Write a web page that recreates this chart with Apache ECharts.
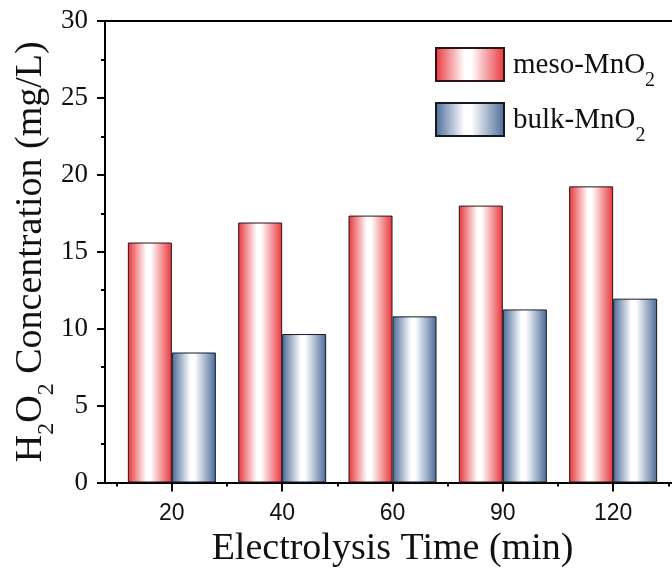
<!DOCTYPE html>
<html>
<head>
<meta charset="utf-8">
<script src="https://cdn.jsdelivr.net/npm/echarts@6/dist/echarts.min.js"></script>
<style>
  html, body { margin: 0; padding: 0; background: #fff; }
  #chart { width: 672px; height: 570px; }
</style>
</head>
<body>
<div id="chart"></div>
<script>
// electrolysis time, min
const categories = ['20', '40', '60', '90', '120']
// H2O2 concentration, mg/L
const mesoValues = [15.6, 16.9, 17.35, 18.0, 19.25]
const bulkValues = [8.45, 9.65, 10.8, 11.25, 11.95]
const yTicks = [0, 5, 10, 15, 20, 25, 30]

// category i sits at x = i + 1 on a value axis, so the frame can start before the first band
const xPos = categories.map((c, i) => i + 1)
const xBounds = [0.5, 1.5, 2.5, 3.5, 4.5, 5.5]

const serif = 'Liberation Serif'
const sans = 'Liberation Sans'

function grad(edge) {
  return new echarts.graphic.LinearGradient(0, 0, 1, 0, [
    { offset: 0, color: edge },
    { offset: 0.42, color: '#ffffff' },
    { offset: 0.52, color: '#ffffff' },
    { offset: 1, color: edge },
  ])
}

// subscript: main text sits at the top of a tall line, the "2" at its bottom
const subRich = {
  m: { fontSize: 29, fontFamily: serif, color: '#111', lineHeight: 29, verticalAlign: 'top' },
  s: { fontSize: 20, fontFamily: serif, color: '#111', lineHeight: 40, verticalAlign: 'bottom' },
}
const nameRich = {
  m: { fontSize: 38, fontFamily: serif, color: '#111', lineHeight: 38, verticalAlign: 'top' },
  s: { fontSize: 24, fontFamily: serif, color: '#111', lineHeight: 47, verticalAlign: 'bottom' },
}

const chart = echarts.init(document.getElementById('chart'), null, { renderer: 'canvas' })

const option = {
  animation: false,
  backgroundColor: '#fff',
  grid: { left: 105, top: 21, bottom: 87.5, right: -8, containLabel: false, outerBoundsMode: 'none' },
  legend: {
    orient: 'vertical',
    left: 430,
    top: 42,
    itemWidth: 68,
    itemHeight: 33,
    itemGap: 11,
    icon: 'rect',
    data: ['meso-MnO2', 'bulk-MnO2'],
    formatter: (name) => '{m|' + name.slice(0, -1) + '}{s|2}',
    textStyle: { fontFamily: serif, fontSize: 29, color: '#111', padding: [13, 0, 0, 4], rich: subRich },
  },
  xAxis: [
    {
      type: 'value',
      position: 'bottom',
      min: 0.394,
      max: 5.606,
      splitLine: { show: false },
      axisLine: { show: true, lineStyle: { color: '#000', width: 2 } },
      axisTick: { show: true, customValues: xPos, length: 9, lineStyle: { color: '#000', width: 2 } },
      axisLabel: {
        customValues: xPos,
        formatter: (v) => categories[Math.round(v) - 1],
        fontFamily: sans,
        fontSize: 23,
        color: '#111',
        margin: 20,
      },
      name: '{m|Electrolysis Time (min)}',
      nameLocation: 'middle',
      nameGap: 38,
      nameTextStyle: { rich: nameRich },
    },
    {
      // band edges, short ticks
      type: 'value',
      position: 'bottom',
      min: 0.394,
      max: 5.606,
      splitLine: { show: false },
      axisLine: { show: false },
      axisTick: { show: true, customValues: xBounds, length: 4, lineStyle: { color: '#000', width: 2 } },
      axisLabel: { show: false },
    },
    {
      // top frame line
      type: 'value',
      position: 'top',
      min: 0.394,
      max: 5.606,
      splitLine: { show: false },
      axisLine: { show: true, lineStyle: { color: '#000', width: 2 } },
      axisTick: { show: false },
      axisLabel: { show: false },
    },
  ],
  yAxis: {
    type: 'value',
    min: yTicks[0],
    max: yTicks[yTicks.length - 1],
    interval: 5,
    splitLine: { show: false },
    axisLine: { show: true, lineStyle: { color: '#000', width: 2 } },
    axisTick: { show: true, length: 8, lineStyle: { color: '#000', width: 2 } },
    minorTick: { show: true, splitNumber: 2, length: 4, lineStyle: { color: '#000', width: 2 } },
    axisLabel: { fontFamily: serif, fontSize: 27, color: '#111', margin: 17 },
    name: '{m|H}{s|2}{m|O}{s|2}{m| Concentration (mg/L)}',
    nameLocation: 'middle',
    nameGap: 46,
    nameMoveOverlap: false,
    nameTextStyle: { rich: nameRich },
  },
  series: [
    {
      name: 'meso-MnO2',
      type: 'bar',
      barWidth: 44,
      barGap: '0%',
      data: xPos.map((x, i) => [x, mesoValues[i]]),
      itemStyle: { color: grad('#e8343a'), borderColor: '#2a1414', borderWidth: 1 },
    },
    {
      name: 'bulk-MnO2',
      type: 'bar',
      barWidth: 44,
      barGap: '0%',
      data: xPos.map((x, i) => [x, bulkValues[i]]),
      itemStyle: { color: grad('#4a6a98'), borderColor: '#141a24', borderWidth: 1 },
    },
  ],
}

chart.setOption(option)
</script>
</body>
</html>
